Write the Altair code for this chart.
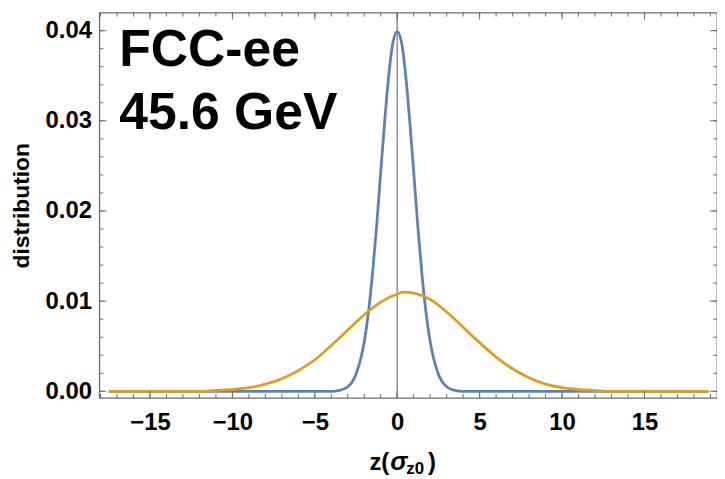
import altair as alt
import pandas as pd

# ---- data ----
blue_z = [-17.5, -5, -4, -3.5, -3, -2.5, -2, -1.75, -1.5, -1.25, -1, -0.75, -0.5, -0.25, 0,
          0.25, 0.5, 0.75, 1, 1.25, 1.5, 1.75, 2, 2.5, 3, 3.5, 4, 5, 18.9]
blue_v = [0, 0, 0.0000, 0.0001, 0.0005, 0.0019, 0.0055, 0.0087, 0.0130, 0.0183, 0.0243, 0.0302,
          0.0353, 0.0388, 0.0399, 0.0388, 0.0353, 0.0302, 0.0243, 0.0183, 0.0130, 0.0087, 0.0055,
          0.0019, 0.0005, 0.0001, 0.0000, 0, 0]

orange_z = [-17.5, -13, -12, -11, -10, -9, -8, -7, -6, -5, -4, -3, -2, -1, 0, 0.4, 1, 2, 3, 4,
            5, 6, 7, 8, 9, 10, 11, 12, 13, 14, 18.9]
orange_v = [0, 0, 0.0000, 0.0001, 0.0002, 0.0004, 0.0008, 0.0014, 0.0023, 0.0035, 0.0051, 0.0068,
            0.0085, 0.0099, 0.0108, 0.0110, 0.0109, 0.0102, 0.0088, 0.0071, 0.0054, 0.0038, 0.0025,
            0.0015, 0.0008, 0.0004, 0.0002, 0.0001, 0.0000, 0, 0]

x_major = [-15, -10, -5, 0, 5, 10, 15]
x_minor = [-18, -17, -16, -15, -14, -13, -12, -11, -10, -9, -8, -7, -6, -5, -4, -3, -2, -1, 0,
           1, 2, 3, 4, 5, 6, 7, 8, 9, 10, 11, 12, 13, 14, 15, 16, 17, 18, 19]
y_major = [0.00, 0.01, 0.02, 0.03, 0.04]
y_minor = [0.000, 0.002, 0.004, 0.006, 0.008, 0.010, 0.012, 0.014, 0.016, 0.018, 0.020, 0.022,
           0.024, 0.026, 0.028, 0.030, 0.032, 0.034, 0.036, 0.038, 0.040]
zero_line = [0]

label_lines = ["FCC-ee", "45.6 GeV"]
y_title = "distribution"

# ---- layout ----
W, H = 622, 388
FONT = "Liberation Sans"
FRAME = "#6b6b6b"
x_dom = [-18.07, 19.4]
y_dom = [-0.00073, 0.0420]

xs = alt.Scale(domain=x_dom, nice=False, zero=False)
ys = alt.Scale(domain=y_dom, nice=False, zero=False)

blue_df = pd.DataFrame({"z": blue_z, "v": blue_v})
orange_df = pd.DataFrame({"z": orange_z, "v": orange_v})

x_axis = alt.Axis(values=x_major, format="d", labelPadding=13, title=None)
y_axis = alt.Axis(values=y_major, format=".2f", labelPadding=8, title=y_title, titlePadding=12,
                  titleFontSize=23)

X = alt.X("z:Q", scale=xs, axis=x_axis)
Y = alt.Y("v:Q", scale=ys, axis=y_axis)

vline = alt.Chart(pd.DataFrame({"z": zero_line})).mark_rule(color="#8a8a8a", strokeWidth=1.4).encode(
    x=X, y=alt.value(0), y2=alt.value(H))

blue = alt.Chart(blue_df).mark_line(color="#5E81B5", strokeWidth=2.8, interpolate="monotone").encode(
    x=X, y=Y)

orange = alt.Chart(orange_df).mark_line(color="#E19C24", strokeWidth=2.8, interpolate="monotone").encode(
    x=X, y=Y)


def xticks(vals, y0, y1):
    return alt.Chart(pd.DataFrame({"z": vals})).mark_rule(color=FRAME, strokeWidth=1).encode(
        x=X, y=alt.value(y0), y2=alt.value(y1))


def yticks(vals, x0, x1):
    return alt.Chart(pd.DataFrame({"v": vals})).mark_rule(color=FRAME, strokeWidth=1).encode(
        y=Y, x=alt.value(x0), x2=alt.value(x1))


ticks = [
    xticks(x_minor, H, H - 4), xticks(x_major, H, H - 7),
    xticks(x_minor, 0, 4), xticks(x_major, 0, 7),
    yticks(y_minor, 0, 4), yticks(y_major, 0, 7),
    yticks(y_minor, W, W - 4), yticks(y_major, W, W - 7),
]

big = alt.Chart(pd.DataFrame({"t": label_lines, "yy": [54, 117]})).mark_text(
    font=FONT, fontSize=52, fontWeight="bold", color="black", align="left", baseline="alphabetic"
).encode(x=alt.value(20), y=alt.Y("yy:Q", scale=None), text="t:N")


def piece(txt, x, y, size, style="normal"):
    return alt.Chart(pd.DataFrame({"t": [txt]})).mark_text(
        font=FONT, fontSize=size, fontWeight="bold", fontStyle=style, color="black",
        align="left", baseline="alphabetic"
    ).encode(x=alt.value(x), y=alt.value(y), text="t:N")


xtitle = [piece("z(", 272, 461, 24), piece("σ", 293, 461, 26, "italic"),
          piece("z0", 309, 465, 17), piece(")", 331, 461, 24)]

chart = alt.layer(vline, blue, orange, *ticks, big, *xtitle).properties(
    width=W, height=H,
    autosize=alt.AutoSizeParams(type="none"),
    padding={"left": 92, "top": 3, "right": 0, "bottom": 80},
).configure_view(
    stroke=FRAME, strokeWidth=1.3
).configure_axis(
    ticks=False, tickSize=0, domain=False, grid=False,
    labelFont=FONT, labelFontSize=24, labelFontWeight="bold", labelColor="black",
    titleFont=FONT, titleFontSize=23, titleFontWeight="bold", titleColor="black",
)

chart.save("out.html", embed_options={"renderer": "svg", "actions": False})
